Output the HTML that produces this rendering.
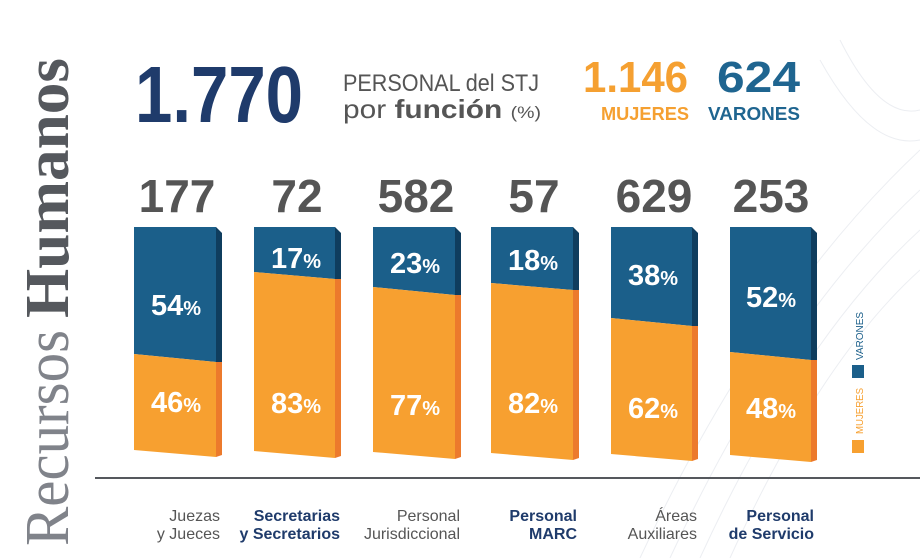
<!DOCTYPE html>
<html><head><meta charset="utf-8"><style>
html,body{margin:0;padding:0;background:#fff;}
svg{display:block;font-family:"Liberation Sans",sans-serif;}
</style></head><body>
<svg width="920" height="558" viewBox="0 0 920 558" xmlns="http://www.w3.org/2000/svg">
<rect width="920" height="558" fill="#fff"/>
<g fill="none" stroke="#eceef2" stroke-width="1">
<path d="M640 558 Q760 300 920 150"/><path d="M670 558 Q780 320 920 190"/><path d="M700 558 Q800 340 920 230"/><path d="M730 558 Q820 360 920 270"/><path d="M840 40 Q880 120 920 110"/><path d="M820 60 Q870 150 920 140"/>
</g>
<!-- vertical title -->
<g transform="translate(68,546) rotate(-90)">
<text x="0" y="0" font-family="Liberation Serif,serif" font-size="62" fill="#80838a" textLength="216" lengthAdjust="spacingAndGlyphs">Recursos</text>
<text x="228" y="0" font-family="Liberation Serif,serif" font-size="62" font-weight="bold" fill="#55585d" textLength="260" lengthAdjust="spacingAndGlyphs">Humanos</text>
</g>
<!-- header -->
<text x="135" y="122" font-size="80" font-weight="bold" fill="#1f3b6b" textLength="168" lengthAdjust="spacingAndGlyphs">1.770</text>
<text x="343" y="91" font-size="24" fill="#555" textLength="196" lengthAdjust="spacingAndGlyphs">PERSONAL del STJ</text>
<text x="343" y="118" font-size="26" fill="#555" textLength="198" lengthAdjust="spacingAndGlyphs">por <tspan font-weight="bold">función</tspan> <tspan font-size="17">(%)</tspan></text>
<text x="583" y="92" font-size="44" font-weight="bold" fill="#f5a031" textLength="105" lengthAdjust="spacingAndGlyphs">1.146</text>
<text x="601" y="120" font-size="18" font-weight="bold" fill="#f5a031" textLength="88" lengthAdjust="spacingAndGlyphs">MUJERES</text>
<text x="717" y="92" font-size="44" font-weight="bold" fill="#1f6590" textLength="83" lengthAdjust="spacingAndGlyphs">624</text>
<text x="708" y="120" font-size="18" font-weight="bold" fill="#1f6590" textLength="92" lengthAdjust="spacingAndGlyphs">VARONES</text>
<!-- totals -->
<g font-size="46" font-weight="bold" fill="#555" text-anchor="middle">
<text x="177" y="212">177</text><text x="297" y="212">72</text><text x="416" y="212">582</text>
<text x="534" y="212">57</text><text x="654" y="212">629</text><text x="771" y="212">253</text>
</g>
<!-- bars -->
<g>
<polygon points="134,227 216,227 216,362 134,354" fill="#1b5f8a"/>
<polygon points="216,227 222,233 222,362 216,362" fill="#0f3d5e"/>
<polygon points="134,354 216,362 216,457 134,450" fill="#f7a030"/>
<polygon points="216,362 222,362 222,455 216,457" fill="#ec7a2c"/>
<polygon points="254,227 335,227 335,279 254,272" fill="#1b5f8a"/>
<polygon points="335,227 341,233 341,279 335,279" fill="#0f3d5e"/>
<polygon points="254,272 335,279 335,458 254,451" fill="#f7a030"/>
<polygon points="335,279 341,279 341,456 335,458" fill="#ec7a2c"/>
<polygon points="373,227 455,227 455,295 373,287" fill="#1b5f8a"/>
<polygon points="455,227 461,233 461,295 455,295" fill="#0f3d5e"/>
<polygon points="373,287 455,295 455,459 373,452" fill="#f7a030"/>
<polygon points="455,295 461,295 461,457 455,459" fill="#ec7a2c"/>
<polygon points="491,227 573,227 573,290 491,283" fill="#1b5f8a"/>
<polygon points="573,227 579,233 579,290 573,290" fill="#0f3d5e"/>
<polygon points="491,283 573,290 573,460 491,453" fill="#f7a030"/>
<polygon points="573,290 579,290 579,458 573,460" fill="#ec7a2c"/>
<polygon points="611,227 692,227 692,326 611,318" fill="#1b5f8a"/>
<polygon points="692,227 698,233 698,326 692,326" fill="#0f3d5e"/>
<polygon points="611,318 692,326 692,461 611,454" fill="#f7a030"/>
<polygon points="692,326 698,326 698,459 692,461" fill="#ec7a2c"/>
<polygon points="730,227 811,227 811,360 730,352" fill="#1b5f8a"/>
<polygon points="811,227 817,233 817,360 811,360" fill="#0f3d5e"/>
<polygon points="730,352 811,360 811,462 730,455" fill="#f7a030"/>
<polygon points="811,360 817,360 817,460 811,462" fill="#ec7a2c"/>
</g>
<!-- percentages -->
<g font-size="29" font-weight="bold" fill="#fff" text-anchor="middle">
<text x="176" y="315">54<tspan font-size="20">%</tspan></text>
<text x="176" y="412">46<tspan font-size="20">%</tspan></text>
<text x="296" y="268">17<tspan font-size="20">%</tspan></text>
<text x="296" y="413">83<tspan font-size="20">%</tspan></text>
<text x="415" y="273">23<tspan font-size="20">%</tspan></text>
<text x="415" y="415">77<tspan font-size="20">%</tspan></text>
<text x="533" y="270">18<tspan font-size="20">%</tspan></text>
<text x="533" y="413">82<tspan font-size="20">%</tspan></text>
<text x="653" y="285">38<tspan font-size="20">%</tspan></text>
<text x="653" y="418">62<tspan font-size="20">%</tspan></text>
<text x="771" y="307">52<tspan font-size="20">%</tspan></text>
<text x="771" y="418">48<tspan font-size="20">%</tspan></text>
</g>
<!-- legend -->
<rect x="852" y="440" width="12" height="13" fill="#f7a030"/>
<rect x="852" y="365" width="12" height="13" fill="#1b5f8a"/>
<text transform="translate(863,434) rotate(-90)" font-size="10" fill="#f7a030" textLength="46" lengthAdjust="spacingAndGlyphs">MUJERES</text>
<text transform="translate(863,360) rotate(-90)" font-size="10" fill="#1b5f8a" textLength="48" lengthAdjust="spacingAndGlyphs">VARONES</text>
<!-- axis -->
<rect x="95" y="477" width="825" height="2" fill="#55585d"/>
<!-- labels -->
<g font-size="16" text-anchor="end">
<text x="220" y="521" fill="#555">Juezas</text><text x="220" y="539" fill="#555">y Jueces</text>
<text x="340" y="521" fill="#1f3b6b" font-weight="bold">Secretarias</text><text x="340" y="539" fill="#1f3b6b" font-weight="bold">y Secretarios</text>
<text x="460" y="521" fill="#555">Personal</text><text x="460" y="539" fill="#555">Jurisdiccional</text>
<text x="577" y="521" fill="#1f3b6b" font-weight="bold">Personal</text><text x="577" y="539" fill="#1f3b6b" font-weight="bold">MARC</text>
<text x="697" y="521" fill="#555">Áreas</text><text x="697" y="539" fill="#555">Auxiliares</text>
<text x="814" y="521" fill="#1f3b6b" font-weight="bold">Personal</text><text x="814" y="539" fill="#1f3b6b" font-weight="bold">de Servicio</text>
</g>
</svg>
</body></html>
